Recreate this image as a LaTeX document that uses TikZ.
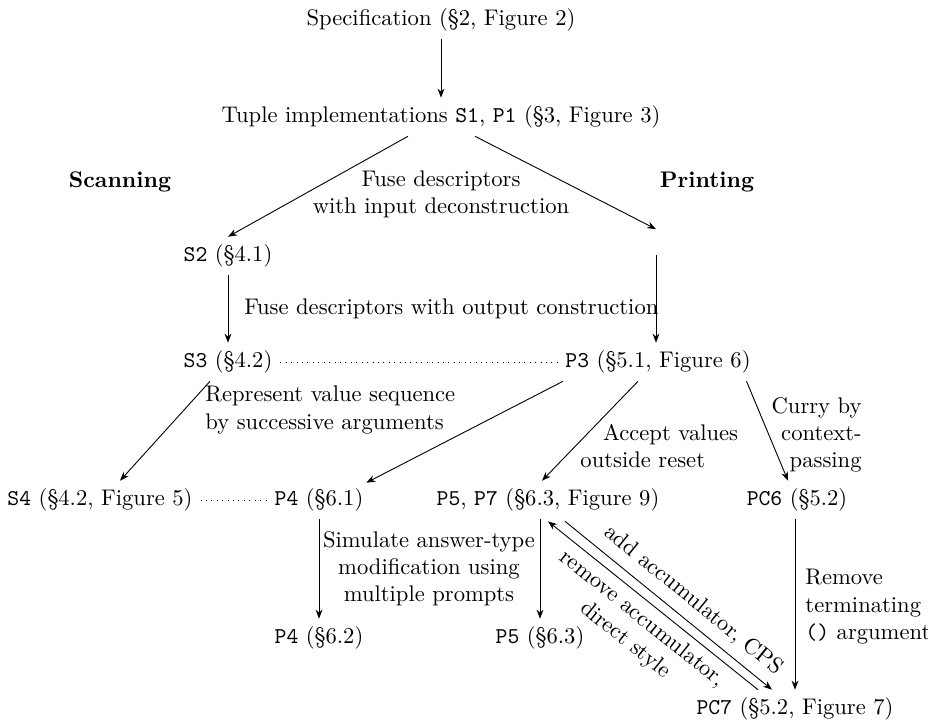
\documentclass[tikz,border=0pt]{standalone}
\usetikzlibrary{arrows.meta,calc}
\begin{document}
\begin{tikzpicture}[x=0.4425pt,y=-0.4425pt,
  item/.style={inner sep=3.33pt},
  lbl/.style={inner sep=0pt},
  arr/.style={-{Stealth[length=4pt,width=3pt]}, line width=0.4pt},
  dots/.style={dotted, line width=0.4pt}]
\useasboundingbox (0,0) rectangle (928,724);
% nodes
\node[item] (spec) at (441,20) {Specification (\S2, Figure 2)};
\node[item] (tuple) at (441,117) {Tuple implementations \texttt{S1}, \texttt{P1} (\S3, Figure 3)};
\node[item] (scan) at (120,182) {\textbf{Scanning}};
\node[item] (print) at (707,182) {\textbf{Printing}};
\node[inner sep=0pt, minimum height=11] (p2) at (656,242) {};
\node[item] (s2) at (228,256) {\texttt{S2} (\S4.1)};
\node[item] (s3) at (228,362) {\texttt{S3} (\S4.2)};
\node[item] (p3) at (658,362) {\texttt{P3} (\S5.1, Figure 6)};
\node[item] (s4) at (100,500) {\texttt{S4} (\S4.2, Figure 5)};
\node[item] (p4a) at (319,500) {\texttt{P4} (\S6.1)};
\node[item] (p57) at (548,500) {\texttt{P5}, \texttt{P7} (\S6.3, Figure 9)};
\node[item] (pc6) at (797,500) {\texttt{PC6} (\S5.2)};
\node[item] (p4b) at (319,638) {\texttt{P4} (\S6.2)};
\node[item] (p5) at (540,638) {\texttt{P5} (\S6.3)};
\node[item] (pc7) at (795,709) {\texttt{PC7} (\S5.2, Figure 7)};
% connectors
\draw[arr] (spec) -- (tuple);
\draw[arr] ($(tuple.south)+(-33,0)$) -- (s2.north);
\draw[arr] ($(tuple.south)+(34,0)$) -- (p2.north);
\node[lbl, align=center] (lfuse1) at (441,194) {Fuse descriptors\\with input deconstruction};
\draw[arr] (s2) -- (s3) node[lbl, midway, right=7pt] {Fuse descriptors with output construction};
\draw[arr] (p2.south) -- (p3.north -| p2.south);
\draw[dots] (s3) -- (p3);
\draw[arr] ($(s3.south)+(-18,0)$) -- ($(s4.north)+(20,0)$);
\node[lbl, align=left, anchor=west] (lrep) at (205,410) {Represent value sequence\\by successive arguments};
\draw[arr] ($(p3.south)+(-95,0)$) -- ($(p4a.north east)+(-5,2)$);
\draw[arr] ($(p3.south)+(-20,0)$) -- ($(p57.north)+(-6,0)$);
\node[lbl, align=left, anchor=north west] (lacc) at (580,424) {\hspace*{10pt}Accept values\\outside reset};
\draw[arr] ($(p3.south east)+(-12,0)$) -- ($(pc6.north)+(-9,0)$);
\node[lbl, align=right, anchor=north east] (lcurry) at (862,397) {Curry by\\context-\\passing};
\draw[dots] (s4) -- (p4a);
\draw[arr] (p4a) -- (p4b);
\node[lbl, align=center] (lsim) at (429,569) {Simulate answer-type\\modification using\\multiple prompts};
\draw[arr] (p57.south -| p5.north) -- (p5.north);
\draw[arr] (pc6.south -| pc7.north) -- (pc7.north);
\node[lbl, align=left, anchor=north west] (lrem) at (805,569) {Remove\\terminating\\\texttt{()} argument};
\draw[arr] ($(p57.south)+(17,2)$) -- ($(pc7.north)+(-23,0)$)
  node[lbl, pos=0.56, sloped, above=4pt] {add accumulator, CPS};
\draw[arr] ($(pc7.north)+(-37,0)$) -- ($(p57.south)+(0,2)$)
  node[lbl, midway, sloped, below=3pt, align=center] {remove accumulator,\\direct style};
\end{tikzpicture}
\end{document}
